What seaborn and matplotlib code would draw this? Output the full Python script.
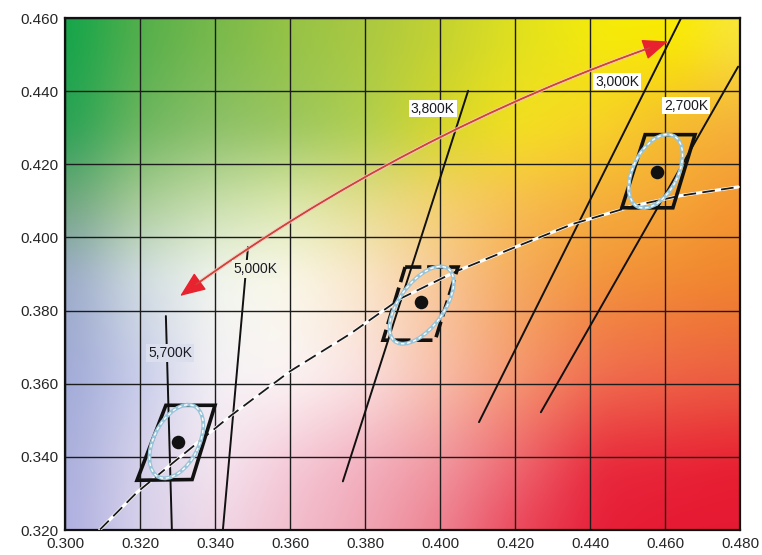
import numpy as np
import pandas as pd
import matplotlib
matplotlib.use("Agg")
import matplotlib.pyplot as plt
import seaborn as sns
from matplotlib.patches import Polygon, Ellipse, FancyArrowPatch

# ---------------- data ----------------
x_ticks = [0.300, 0.320, 0.340, 0.360, 0.380, 0.400, 0.420, 0.440, 0.460, 0.480]
y_ticks = [0.320, 0.340, 0.360, 0.380, 0.400, 0.420, 0.440, 0.460]

# isotherm (constant CCT) lines: end points
iso_labels = ["5,700K", "5,000K", "3,800K", "3,000K", "2,700K"]
iso_x0 = [0.3285, 0.3421, 0.3741, 0.4104, 0.4269]
iso_y0 = [0.3200, 0.3200, 0.3333, 0.3495, 0.3522]
iso_x1 = [0.3269, 0.3488, 0.4075, 0.4643, 0.4795]
iso_y1 = [0.3785, 0.3974, 0.4401, 0.4600, 0.4467]

# black-body (Planckian) locus
locus_x = [0.3093, 0.3192, 0.3293, 0.3440, 0.3600, 0.3760, 0.3893, 0.4045,
           0.4221, 0.4355, 0.4515, 0.4640, 0.4795]
locus_y = [0.3201, 0.3303, 0.3388, 0.3511, 0.3634, 0.3736, 0.3832, 0.3908,
           0.3982, 0.4037, 0.4086, 0.4114, 0.4138]

# nominal chromaticity of the three bins
bin_names = ["5700K", "3800K", "2700K"]
center_x = [0.3301, 0.3949, 0.4579]
center_y = [0.3440, 0.3823, 0.4179]

# tolerance quadrangles (TL, TR, BR, BL)
quad_x = [[0.3269, 0.3400, 0.3339, 0.3192],
          [0.3907, 0.4048, 0.3987, 0.3848],
          [0.4547, 0.4680, 0.4621, 0.4485]]
quad_y = [[0.3541, 0.3541, 0.3338, 0.3336],
          [0.3919, 0.3919, 0.3719, 0.3719],
          [0.4281, 0.4281, 0.4081, 0.4081]]

# MacAdam-type ellipses
ell_x = [0.3297, 0.3951, 0.4575]
ell_y = [0.3442, 0.3815, 0.4181]
ell_major = [0.0216, 0.0244, 0.0216]
ell_minor = [0.0120, 0.0120, 0.0120]
ell_angle = [64, 55, 64]

# warm <-> cool arrow
arrow_start = (0.3307, 0.3840)
arrow_end = (0.4608, 0.4536)

# ---------------- background colour field ----------------
bg_cols_x = [0.3013, 0.32, 0.34, 0.36, 0.38, 0.40, 0.4213, 0.4427, 0.464, 0.4787]
bg_rows_y = [0.455, 0.43, 0.41, 0.39, 0.362, 0.337, 0.32]
bg_rows = [
    [(20, 165, 75), (85, 175, 75), (120, 185, 75), (150, 195, 70), (170, 200, 65),
     (195, 210, 50), (225, 225, 30), (245, 235, 10), (250, 235, 0), (248, 230, 60)],
    [(40, 162, 85), (110, 182, 95), (140, 192, 105), (155, 198, 95), (175, 207, 80),
     (215, 215, 40), (245, 225, 30), (248, 210, 40), (245, 185, 50), (245, 175, 60)],
    [(110, 165, 125), (170, 205, 150), (200, 222, 170), (220, 232, 170), (228, 222, 140),
     (245, 210, 110), (248, 190, 80), (245, 175, 60), (245, 165, 55), (245, 150, 50)],
    [(155, 170, 200), (210, 222, 225), (242, 246, 238), (250, 248, 232), (250, 230, 200),
     (248, 200, 150), (245, 170, 90), (243, 150, 60), (242, 140, 50), (240, 135, 45)],
    [(160, 170, 215), (200, 205, 235), (245, 242, 246), (252, 245, 245), (250, 225, 225),
     (248, 190, 170), (245, 150, 110), (240, 110, 80), (238, 100, 70), (236, 95, 65)],
    [(170, 175, 220), (215, 210, 235), (245, 230, 240), (245, 200, 215), (243, 175, 190),
     (240, 150, 160), (238, 100, 110), (232, 40, 60), (232, 35, 55), (232, 30, 50)],
    [(175, 175, 225), (215, 210, 235), (240, 215, 230), (242, 190, 205), (240, 165, 180),
     (238, 130, 145), (235, 70, 90), (230, 30, 55), (230, 25, 50), (230, 25, 50)],
]

X0, X1, Y0, Y1 = 0.300, 0.480, 0.320, 0.460
nx, ny = 360, 280
gx = np.linspace(X0, X1, nx)
gy = np.linspace(Y0, Y1, ny)


def colour_field():
    tab = np.array(bg_rows, dtype=float) / 255.0          # rows top -> bottom
    along_x = np.stack([[np.interp(gx, bg_cols_x, tab[r, :, c]) for c in range(3)]
                        for r in range(tab.shape[0])])     # (rows, 3, nx)
    ys = np.array(bg_rows_y)[::-1]
    along_x = along_x[::-1]
    field = np.empty((ny, nx, 3))
    for c in range(3):
        for j in range(nx):
            field[:, j, c] = np.interp(gy, ys, along_x[:, c, j])
    # soften the piecewise-linear creases
    sigma = 9
    r = 3 * sigma
    k = np.exp(-(np.arange(-r, r + 1) ** 2) / (2 * sigma ** 2))
    k /= k.sum()
    pad = np.pad(field, ((r, r), (r, r), (0, 0)), mode="edge")
    pad = np.apply_along_axis(lambda v: np.convolve(v, k, mode="valid"), 0, pad)
    pad = np.apply_along_axis(lambda v: np.convolve(v, k, mode="valid"), 1, pad)
    return np.clip(pad, 0, 1)


field = colour_field()


def field_at(x, y):
    j = int(np.clip(round((x - X0) / (X1 - X0) * (nx - 1)), 0, nx - 1))
    i = int(np.clip(round((y - Y0) / (Y1 - Y0) * (ny - 1)), 0, ny - 1))
    return tuple(field[i, j])


# ---------------- figure ----------------
sns.set_theme(style="white")
plt.rcParams["font.family"] = ["Liberation Sans", "DejaVu Sans"]

fig = plt.figure(figsize=(7.62, 5.55), dpi=100)
ax = fig.add_axes([65 / 762, 1 - 530 / 555, 675 / 762, 512 / 555])

ax.imshow(field, extent=(X0, X1, Y0, Y1), origin="lower", aspect="auto",
          interpolation="bilinear", zorder=0)

# isotherms
iso_df = pd.DataFrame({
    "x": [v for pair in zip(iso_x0, iso_x1) for v in pair],
    "y": [v for pair in zip(iso_y0, iso_y1) for v in pair],
    "cct": [lab for lab in iso_labels for _ in range(2)],
})
sns.lineplot(data=iso_df, x="x", y="y", units="cct", estimator=None, sort=False,
             color="#111111", lw=1.4, ax=ax, zorder=3)

# Planckian locus: white line with black dashes on top
sns.lineplot(x=locus_x, y=locus_y, sort=False, color="white", lw=2.3, ax=ax, zorder=4)
sns.lineplot(x=locus_x, y=locus_y, sort=False, color="#1a1a1a", lw=1.3, ax=ax, zorder=4.1)
ax.lines[-1].set_dashes([7, 3.5])

# quadrangles
for k in range(3):
    poly = Polygon(list(zip(quad_x[k], quad_y[k])), closed=True, fill=False,
                   edgecolor="#111111", lw=2.6, joinstyle="miter", zorder=5)
    if bin_names[k] == "3800K":
        poly.set_linestyle((0, (4.5, 1.6)))
    ax.add_patch(poly)

# ellipses
for k in range(3):
    base = Ellipse((ell_x[k], ell_y[k]), ell_major[k], ell_minor[k], angle=ell_angle[k],
                   fill=False, edgecolor="#98c4d8", lw=2.8, zorder=6)
    ax.add_patch(base)
    top = Ellipse((ell_x[k], ell_y[k]), ell_major[k], ell_minor[k], angle=ell_angle[k],
                  fill=False, edgecolor="white", lw=1.0, linestyle=(0, (2.5, 2.0)), zorder=6.1)
    ax.add_patch(top)

# bin centres
sns.scatterplot(x=center_x, y=center_y, s=95, color="#111111", edgecolor="#111111",
                linewidth=0, ax=ax, zorder=7)

# warm/cool arrow: pale halo, red heads, darker thin shaft
arc = "arc3,rad=-0.075"
halo = FancyArrowPatch(arrow_start, arrow_end, connectionstyle=arc, arrowstyle="-",
                       color="#f6c4bd", lw=2.8, alpha=0.8, shrinkA=14, shrinkB=14, zorder=8)
ax.add_patch(halo)
heads = FancyArrowPatch(arrow_start, arrow_end, connectionstyle=arc,
                        arrowstyle="<|-|>,head_length=1.6,head_width=0.65",
                        mutation_scale=10, color="#e8222e", lw=1.0,
                        shrinkA=0, shrinkB=0, zorder=8.1)
ax.add_patch(heads)
shaft = FancyArrowPatch(arrow_start, arrow_end, connectionstyle=arc, arrowstyle="-",
                        color="#c9473a", lw=1.0, shrinkA=14, shrinkB=14, zorder=8.2)
ax.add_patch(shaft)

# isotherm labels
label_pos = [(0.3280, 0.3684), (0.3509, 0.3914), (0.3981, 0.4352),
             (0.4472, 0.4426), (0.4656, 0.4360)]
boxed = [False, False, True, True, True]
for lab, (lx, ly), b in zip(iso_labels, label_pos, boxed):
    fc = "white" if b else field_at(lx, ly)
    ax.text(lx, ly, lab, ha="center", va="center", fontsize=10, color="#1a1a22",
            bbox=dict(boxstyle="square,pad=0.12", fc=fc, ec="none"), zorder=9)

# axes
ax.set_xlim(X0, X1)
ax.set_ylim(Y0, Y1)
ax.set_xticks(x_ticks)
ax.set_yticks(y_ticks)
ax.set_xticklabels([f"{v:.3f}" for v in x_ticks])
ax.set_yticklabels([f"{v:.3f}" for v in y_ticks])
ax.tick_params(length=0, pad=5, labelsize=11, colors="#262626")
ax.set_xlabel("")
ax.set_ylabel("")
ax.set_axisbelow(True)
ax.grid(True, color="#1c1c1c", lw=1.0)
for s in ax.spines.values():
    s.set_visible(True)
    s.set_color("#111111")
    s.set_linewidth(1.6)

fig.savefig("out.png", dpi=100, facecolor="white")
